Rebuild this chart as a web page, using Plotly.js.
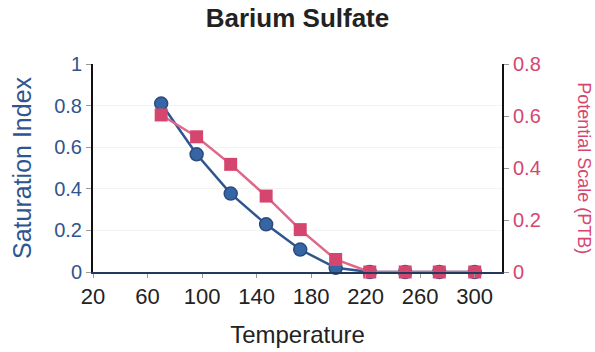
<!DOCTYPE html>
<html>
<head>
<meta charset="utf-8">
<script src="https://cdn.plot.ly/plotly-3.0.1.min.js"></script>
<style>html,body{margin:0;padding:0;background:#fff;}#chart{width:595px;height:352px;}</style>
</head>
<body>
<div id="chart"></div>
<script>
var temperature = [70, 96, 121, 147, 172, 198, 223, 249, 274, 300];
var saturationIndex = [0.81, 0.566, 0.377, 0.229, 0.108, 0.02, 0, 0, 0, 0];
var potentialScale = [0.604, 0.52, 0.414, 0.292, 0.163, 0.048, 0, 0, 0, 0];
var xTicks = [20, 60, 100, 140, 180, 220, 260, 300];
var leftTicks = [0, 0.2, 0.4, 0.6, 0.8, 1];
var leftTickText = ['0', '0.2', '0.4', '0.6', '0.8', '1'];
var rightTicks = [0, 0.2, 0.4, 0.6, 0.8];
var rightTickText = ['0', '0.2', '0.4', '0.6', '0.8'];

var blue = '#2f5590';
var pink = '#d5466f';
var font = 'Liberation Sans, Arial, sans-serif';

var traces = [
  {
    x: temperature, y: saturationIndex, yaxis: 'y', type: 'scatter', mode: 'lines+markers',
    line: {color: blue, width: 2.5},
    marker: {symbol: 'circle', size: 13, color: '#3566a3', line: {color: '#2a4a80', width: 1.5}},
    hoverinfo: 'none', cliponaxis: false
  },
  {
    x: temperature, y: potentialScale, yaxis: 'y2', type: 'scatter', mode: 'lines+markers',
    line: {color: '#e0668a', width: 2.5},
    marker: {symbol: 'square', size: 13, color: pink, line: {width: 0}},
    hoverinfo: 'none', cliponaxis: false
  }
];

var layout = {
  width: 595, height: 352,
  margin: {l: 93, r: 93, t: 64, b: 80, pad: 0},
  paper_bgcolor: '#fff', plot_bgcolor: '#fff',
  showlegend: false,
  title: {text: '<b>Barium Sulfate</b>', font: {family: font, size: 26, color: '#222'}, x: 0.5, xanchor: 'center', y: 0.95, yanchor: 'middle'},
  xaxis: {
    range: [20, 320], tickvals: xTicks, ticktext: xTicks.map(String),
    showgrid: false, zeroline: false, showline: true, linecolor: '#243a5c', linewidth: 2,
    ticks: 'outside', ticklen: 4, tickcolor: '#999', tickwidth: 1,
    tickfont: {family: font, size: 22, color: '#222'},
    title: {text: 'Temperature', font: {family: font, size: 24, color: '#222'}, standoff: 18}
  },
  yaxis: {
    range: [0, 1], tickvals: leftTicks, ticktext: leftTickText,
    showgrid: true, gridcolor: '#f3f3f3', zeroline: false, showline: true, linecolor: '#111', linewidth: 2,
    ticks: 'outside', ticklen: 5, tickcolor: '#999', tickwidth: 1,
    tickfont: {family: font, size: 20, color: blue},
    title: {text: 'Saturation Index', font: {family: font, size: 25, color: blue}, standoff: 15}
  },
  yaxis2: {
    range: [0, 0.8], tickvals: rightTicks, ticktext: rightTickText,
    overlaying: 'y', side: 'right',
    showgrid: false, zeroline: false, showline: true, linecolor: '#111', linewidth: 2,
    ticks: 'outside', ticklen: 5, tickcolor: '#999', tickwidth: 1,
    tickfont: {family: font, size: 20, color: pink}
  },
  annotations: [{
    text: 'Potential Scale (PTB)', xref: 'paper', yref: 'paper', x: 1.2, y: 0.5,
    xanchor: 'center', yanchor: 'middle', textangle: 90, showarrow: false,
    font: {family: font, size: 18, color: pink}
  }]
};

Plotly.newPlot('chart', traces, layout, {staticPlot: true, displayModeBar: false});
</script>
</body>
</html>
